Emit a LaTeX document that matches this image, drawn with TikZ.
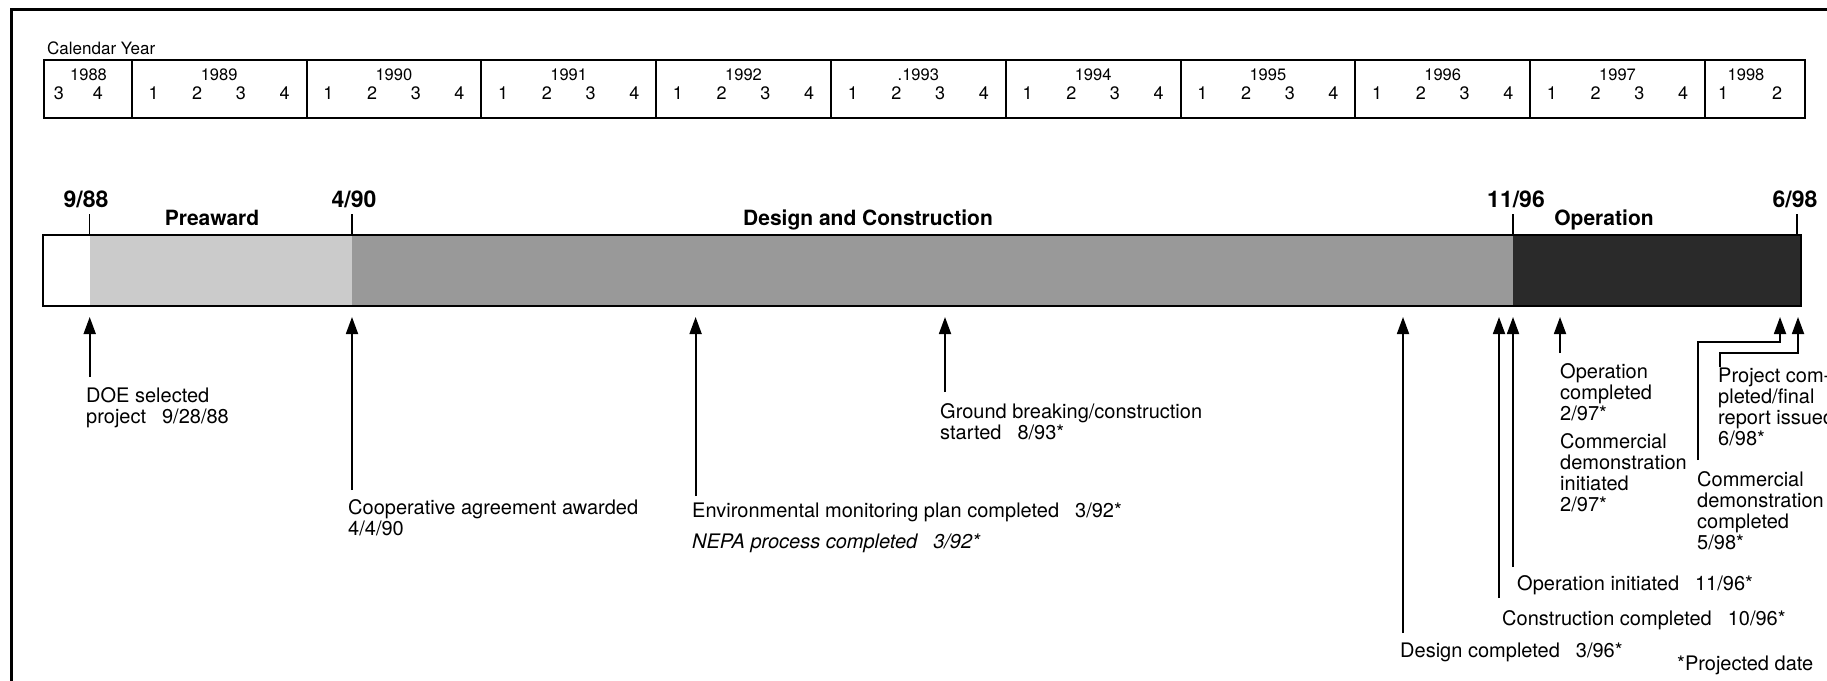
\documentclass[tikz,border=0pt]{standalone}
\usepackage{fontspec}
\setmainfont{TeX Gyre Heros}
\usetikzlibrary{arrows.meta}
\definecolor{preaw}{HTML}{CBCBCB}
\definecolor{desig}{HTML}{999999}
\definecolor{operc}{HTML}{2A2A2A}
\tikzset{
  frameline/.style={line width=3pt},
  calline/.style={line width=2pt},
  calhead/.style={inner sep=0pt, anchor=base west, font=\fontsize{17}{18}\selectfont},
  yearlbl/.style={inner sep=0pt, anchor=base, font=\fontsize{16.5}{17}\selectfont},
  qlbl/.style={inner sep=0pt, anchor=base, font=\fontsize{18}{19}\selectfont},
  datelbl/.style={inner sep=0pt, anchor=base, font=\bfseries\fontsize{23}{24}\selectfont},
  phaselbl/.style={inner sep=0pt, anchor=base, font=\bfseries\fontsize{21}{22}\selectfont},
  evt/.style={inner sep=0pt, anchor=north west, align=left, font=\fontsize{20}{21}\selectfont},
  tickline/.style={line width=1.5pt},
  barline/.style={line width=2.5pt},
  arr/.style={line width=1.8pt, -{Triangle[width=12pt,length=17pt]}},
  elbow/.style={line width=1.8pt, -{Triangle[width=12pt,length=17pt]}}
}
\begin{document}
\begin{tikzpicture}[x=1pt,y=-1pt]
\clip (0,0) rectangle (1827,680);
\fill[white] (0,0) rectangle (1827,680);
% frame
\draw[frameline] (11,700) -- (11,9) -- (1840,9);

% calendar
\node[calhead] (calyear) at (47,54) {Calendar Year};
\draw[calline] (44.3,60) rectangle (1805,118);
\node[yearlbl] (y1988) at (88.5,80.8) {1988};
\node[qlbl] (q1988-3) at (59,99.5) {3};
\node[qlbl] (q1988-4) at (98,99.5) {4};
\foreach \yr/\lab [count=\i from 0] in {1989/1989,1990/1990,1991/1991,1992/1992,1993/.1993,1994/1994,1995/1995,1996/1996,1997/1997}{
  \pgfmathsetmacro{\xs}{131.7+174.8*\i}
  \draw[calline] (\xs,60) -- (\xs,118);
  \node[yearlbl] (y\yr) at (\xs+87.4,80.8) {\lab};
  \foreach \q in {1,2,3,4}{
    \node[qlbl] (q\yr-\q) at (\xs+43.7*\q-21.85,99.5) {\q};
  }
}
\draw[calline] (1704.7,60) -- (1704.7,118);
\node[yearlbl] (y1998) at (1746,80.8) {1998};
\node[qlbl] (q1998-1) at (1723,99.5) {1};
\node[qlbl] (q1998-2) at (1777,99.5) {2};

% bar
\fill[preaw] (89.7,235) rectangle (352,306);
\fill[desig] (352,235) rectangle (1513,306);
\fill[operc] (1513,235) rectangle (1801,306);
\draw[barline] (43,235) rectangle (1801,306);

% milestones above bar
\coordinate (k1t) at (89.7,214); \coordinate (k1b) at (89.7,235);
\coordinate (k2t) at (352,214);  \coordinate (k2b) at (352,235);
\coordinate (k3t) at (1513,214); \coordinate (k3b) at (1513,235);
\coordinate (k4t) at (1797,214); \coordinate (k4b) at (1797,235);
\draw[tickline] (k1t) -- (k1b);
\draw[tickline] (k2t) -- (k2b);
\draw[tickline] (k3t) -- (k3b);
\draw[tickline] (k4t) -- (k4b);
\node[datelbl] (d988) at (86,207) {9/88};
\node[datelbl] (d490) at (354,207) {4/90};
\node[datelbl] (d1196) at (1516,207) {11/96};
\node[datelbl] (d698) at (1795,207) {6/98};
\node[phaselbl] (pPre) at (212,225.5) {Preaward};
\node[phaselbl] (pDes) at (868,225.5) {Design and Construction};
\node[phaselbl] (pOp) at (1604,225.5) {Operation};

% events
\node[evt] (doe) at (86,387) {DOE selected\\project\hspace{0.8em}9/28/88};
\node[evt] (coop) at (348,499) {Cooperative agreement awarded\\4/4/90};
\node[evt] (env) at (692,503) {Environmental monitoring plan completed\hspace{0.8em}3/92*};
\node[evt] (nepa) at (692,534) {\itshape NEPA process completed\hspace{0.8em}3/92*};
\node[evt] (gb) at (940,403) {Ground breaking/construction\\started\hspace{0.8em}8/93*};
\node[evt] (des) at (1400,643) {Design completed\hspace{0.8em}3/96*};
\node[evt] (con) at (1502,610) {Construction completed\hspace{0.8em}10/96*};
\node[evt] (opi) at (1517,575) {Operation initiated\hspace{0.8em}11/96*};
\node[evt] (opc) at (1560,363) {Operation\\completed\\2/97*};
\node[evt] (cdi) at (1560,433) {Commercial\\demonstration\\initiated\\2/97*};
\node[evt] (pc) at (1718,368) {Project com-\\pleted/final\\report issued\\6/98*};
\node[evt] (cdc) at (1697,471) {Commercial\\demonstration\\completed\\5/98*};
\node[evt] (proj) at (1677,656) {*Projected date};

% arrows
\coordinate (aDOE) at (89.7,317);  \coordinate (bDOE) at (89.7,377);
\coordinate (aCoop) at (352,317);  \coordinate (bCoop) at (352,490);
\coordinate (aEnv) at (695.6,317); \coordinate (bEnv) at (695.6,496);
\coordinate (aGB) at (945,317);    \coordinate (bGB) at (945,392);
\coordinate (aDes) at (1403,317);  \coordinate (bDes) at (1403,633);
\coordinate (aCon) at (1499,317);  \coordinate (bCon) at (1499,598);
\coordinate (aOpI) at (1513,317);  \coordinate (bOpI) at (1513,567);
\coordinate (aOpC) at (1560,317);  \coordinate (bOpC) at (1560,353);
\coordinate (aCdc) at (1780,317);  \coordinate (bCdc) at (1698,460);
\coordinate (aPc) at (1798,317);   \coordinate (bPc) at (1720,367);
\draw[arr] (bDOE) -- (aDOE);
\draw[arr] (bCoop) -- (aCoop);
\draw[arr] (bEnv) -- (aEnv);
\draw[arr] (bGB) -- (aGB);
\draw[arr] (bDes) -- (aDes);
\draw[arr] (bCon) -- (aCon);
\draw[arr] (bOpI) -- (aOpI);
\draw[arr] (bOpC) -- (aOpC);
\draw[elbow] (bCdc) -- (1698,342) -- (1780,342) -- (aCdc);
\draw[elbow] (bPc) -- (1720,353) -- (1798,353) -- (aPc);
\end{tikzpicture}
\end{document}
